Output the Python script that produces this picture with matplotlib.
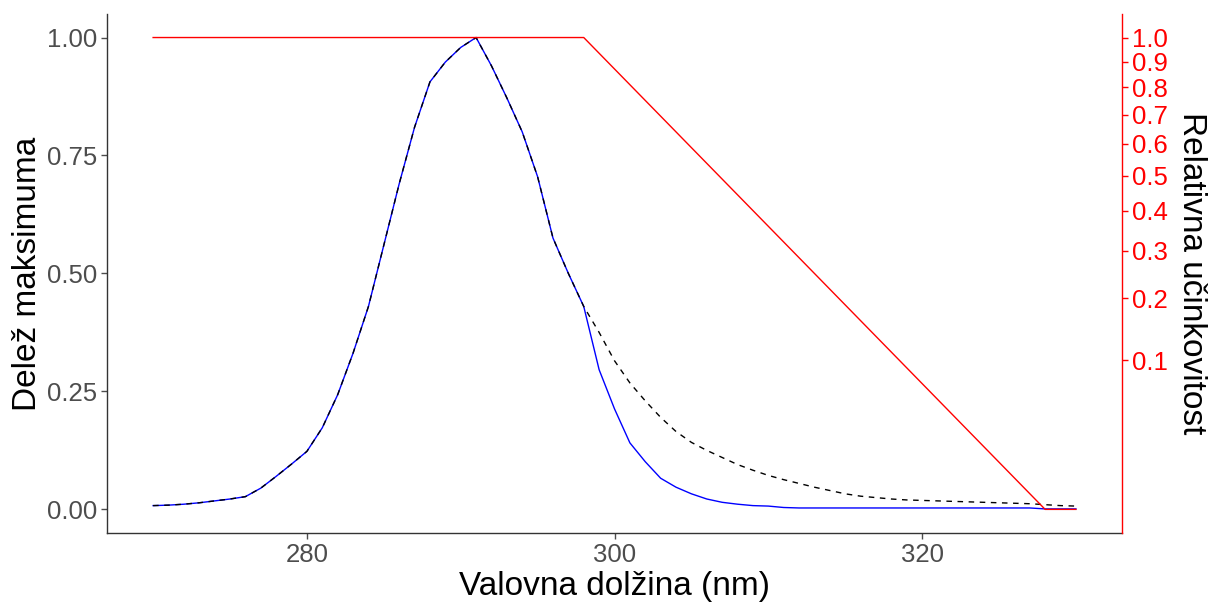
import numpy as np
import matplotlib
matplotlib.use("Agg")
import matplotlib.pyplot as plt

plt.rcParams['font.family'] = ['Liberation Sans', 'DejaVu Sans']

# spekter (moder) - 1 nm koraki
wl = list(range(270, 331))
spekter = [0.008, 0.009, 0.011, 0.014, 0.018, 0.022, 0.027, 0.045, 0.070, 0.096,
           0.123, 0.173, 0.243, 0.331, 0.430, 0.560, 0.690, 0.810, 0.906, 0.948,
           0.979, 1.000, 0.940, 0.872, 0.800, 0.705, 0.575, 0.500, 0.430, 0.296,
           0.213, 0.141, 0.101, 0.066, 0.047, 0.033, 0.022, 0.015, 0.011, 0.008,
           0.007, 0.004, 0.003, 0.003, 0.003, 0.003, 0.003, 0.003, 0.003, 0.003,
           0.003, 0.003, 0.003, 0.003, 0.003, 0.003, 0.003, 0.003, 0.001, 0.001,
           0.001]

# nefiltriran spekter (crtkano) - od 298 nm naprej
wl_crt = list(range(270, 331))
spekter_crt = spekter[:28] + [
    0.430, 0.375, 0.315, 0.268, 0.230, 0.195, 0.165, 0.142, 0.125, 0.110,
    0.095, 0.083, 0.072, 0.063, 0.055, 0.047, 0.040, 0.033, 0.028, 0.025,
    0.022, 0.020, 0.019, 0.018, 0.017, 0.016, 0.015, 0.014, 0.013, 0.012,
    0.010, 0.008, 0.007]

# ucinkovitost (rdeca), v enotah leve osi
wl_uc = [270, 298, 328, 330]
ucinek = [1.0, 1.0, 0.0, 0.0]

uc_ticks = [1.0, 0.9, 0.8, 0.7, 0.6, 0.5, 0.4, 0.3, 0.2, 0.1]

fig = plt.figure(figsize=(12.24, 6.06), dpi=100)
ax = fig.add_axes([0.0874, 0.1205, 0.8293, 0.8565])

ax.plot(wl, spekter, color='blue', lw=1)
ax.plot(wl_crt, spekter_crt, color='black', lw=1, ls=(0, (4, 4)))
ax.plot(wl_uc, ucinek, color='red', lw=1)

ax.set_xlim(267, 333)
ax.set_ylim(-0.05, 1.05)
ax.set_xticks([280, 300, 320])
ax.set_yticks([0, 0.25, 0.5, 0.75, 1.0])
ax.set_yticklabels(['0.00', '0.25', '0.50', '0.75', '1.00'])
ax.tick_params(colors='#4D4D4D', labelsize=18.5, length=4, width=1, pad=3)
ax.set_xlabel('Valovna dolžina (nm)', fontsize=24, labelpad=3)
ax.set_ylabel('Delež maksimuma', fontsize=24, labelpad=3)
ax.spines['top'].set_visible(False)
ax.spines['right'].set_visible(False)
for s in ['left', 'bottom']:
    ax.spines[s].set_color('#333333')
    ax.spines[s].set_linewidth(1)

ax2 = ax.twinx()
ax2.set_ylim(ax.get_ylim())
ax2.set_yticks(np.sqrt(uc_ticks))
ax2.set_yticklabels(['%.1f' % t for t in uc_ticks])
ax2.tick_params(colors='red', labelsize=18.5, length=4, width=1, pad=3)
ax2.spines['right'].set_color('red')
ax2.spines['right'].set_linewidth(1)
ax2.spines['top'].set_visible(False)
ax2.spines['left'].set_visible(False)
ax2.spines['bottom'].set_visible(False)
ax2.set_ylabel('Relativna učinkovitost', fontsize=24, rotation=270, labelpad=28)

fig.savefig('out.png', dpi=100)
